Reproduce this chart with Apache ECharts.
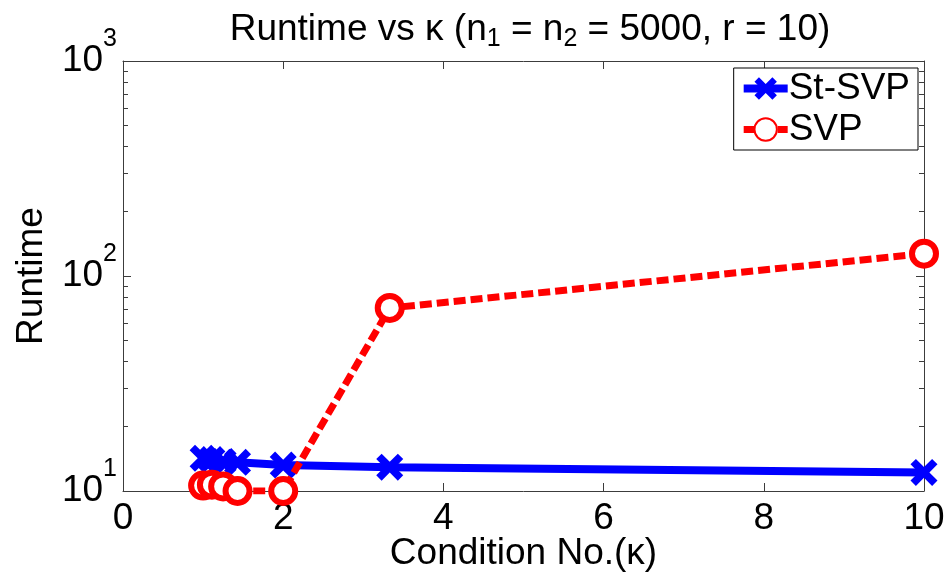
<!DOCTYPE html>
<html>
<head>
<meta charset="utf-8">
<script src="https://cdn.jsdelivr.net/npm/echarts@6/dist/echarts.min.js"></script>
<style>
  html, body { margin: 0; padding: 0; background: #fff; }
  #chart { width: 949px; height: 576px; }
</style>
</head>
<body>
<div id="chart"></div>
<script>
// condition number values (x)
const kappa = [1, 1.11, 1.25, 1.43, 2, 3.33, 10]
// runtimes
const stSvp = [14.2, 14.0, 13.7, 13.6, 13.2, 12.9, 12.2]
const svp = [10.6, 10.7, 10.5, 10.0, 10.0, 71, 127]
const xTicks = [0, 2, 4, 6, 8, 10]
const yMajor = [10, 100, 1000]
const yMinor = [20, 30, 40, 50, 60, 70, 80, 90, 200, 300, 400, 500, 600, 700, 800, 900]

const FONT = 'Arial, "Liberation Sans", Helvetica, sans-serif'
const FS = 37
const AX = '#3c3c3c'
const xPath = 'path://M0,2 L2,0 L5,3 L8,0 L10,2 L7,5 L10,8 L8,10 L5,7 L2,10 L0,8 L3,5 Z'

const chart = echarts.init(document.getElementById('chart'))

const pairs = (ys) => kappa.map((k, i) => [k, ys[i]])

const supLabel = (v) => {
    const p = Math.round(Math.log10(v))
    return '{b|10}{s|' + p + '}'
}

const option = {
    animation: false,
    backgroundColor: '#fff',
    textStyle: { fontFamily: FONT },
    title: {
        text: '{a|Runtime vs κ (n}{s|1}{a| = n}{s|2}{a| = 5000, r = 10)}',
        left: 525,
        top: 3,
        textAlign: 'center',
        textStyle: {
            fontWeight: 'normal',
            rich: {
                a: { fontSize: FS, lineHeight: 44, color: '#000', fontFamily: FONT, fontWeight: 'normal' },
                s: { fontSize: 25, lineHeight: 24, color: '#000', fontFamily: FONT, fontWeight: 'normal', verticalAlign: 'bottom' }
            }
        }
    },
    legend: {
        right: 31,
        top: 68,
        orient: 'vertical',
        backgroundColor: '#fff',
        borderColor: '#000',
        borderWidth: 1,
        borderRadius: 0,
        padding: [2, 8, 2, 6],
        itemWidth: 44,
        itemHeight: 28,
        itemGap: 4,
        lineStyle: { width: 'inherit' },
        textStyle: { fontSize: FS, lineHeight: 36, color: '#000', fontFamily: FONT, padding: [0, 0, 0, -4] },
        data: ['St-SVP', 'SVP']
    },
    grid: { left: 123, right: 25, top: 61, bottom: 85, containLabel: false, outerBoundsMode: 'none' },
    xAxis: [
        {
            type: 'value',
            min: 0,
            max: 10,
            interval: 2,
            name: 'Condition No.(κ)',
            nameLocation: 'middle',
            nameGap: 44,
            nameMoveOverlap: false,
            nameTextStyle: { fontSize: FS, lineHeight: 38, color: '#000', fontFamily: FONT },
            axisLine: { show: true, onZero: false, lineStyle: { color: AX, width: 1 } },
            axisTick: { show: true, inside: true, length: 8, lineStyle: { color: AX } },
            axisLabel: { fontSize: FS, color: '#000', margin: 9, fontFamily: FONT },
            splitLine: { show: false }
        },
        {
            type: 'value',
            position: 'top',
            min: 0,
            max: 10,
            interval: 2,
            axisLine: { show: true, onZero: false, lineStyle: { color: AX, width: 1 } },
            axisTick: { show: true, inside: true, length: 8, lineStyle: { color: AX } },
            axisLabel: { show: false },
            splitLine: { show: false }
        }
    ],
    yAxis: [
        {
            type: 'log',
            logBase: 10,
            min: 10,
            max: 1000,
            name: 'Runtime',
            nameLocation: 'middle',
            nameGap: 73,
            nameMoveOverlap: false,
            nameTextStyle: { fontSize: FS, color: '#000', fontFamily: FONT },
            axisLine: { show: true, lineStyle: { color: AX, width: 1 } },
            axisTick: { show: true, inside: true, length: 8, lineStyle: { color: AX }, customValues: yMajor },
            axisLabel: {
                margin: 6,
                customValues: yMajor,
                formatter: supLabel,
                rich: {
                    b: { fontSize: FS, lineHeight: 68, color: '#000', fontFamily: FONT },
                    s: { fontSize: 25, lineHeight: 24, verticalAlign: 'top', color: '#000', fontFamily: FONT }
                }
            },
            splitLine: { show: false }
        },
        {
            type: 'log',
            logBase: 10,
            min: 10,
            max: 1000,
            position: 'left',
            axisLine: { show: false },
            axisTick: { show: true, inside: true, length: 5, lineStyle: { color: AX }, customValues: yMinor },
            axisLabel: { show: false },
            splitLine: { show: false }
        },
        {
            type: 'log',
            logBase: 10,
            min: 10,
            max: 1000,
            position: 'right',
            axisLine: { show: true, lineStyle: { color: AX, width: 1 } },
            axisTick: { show: true, inside: true, length: 8, lineStyle: { color: AX }, customValues: yMajor },
            axisLabel: { show: false },
            splitLine: { show: false }
        },
        {
            type: 'log',
            logBase: 10,
            min: 10,
            max: 1000,
            position: 'right',
            axisLine: { show: false },
            axisTick: { show: true, inside: true, length: 5, lineStyle: { color: AX }, customValues: yMinor },
            axisLabel: { show: false },
            splitLine: { show: false }
        }
    ],
    series: [
        {
            name: 'St-SVP',
            type: 'line',
            data: pairs(stSvp),
            symbol: xPath,
            symbolSize: 27,
            lineStyle: { color: '#0000ff', width: 8 },
            itemStyle: { color: '#0000ff' },
            z: 3
        },
        {
            name: 'SVP',
            type: 'line',
            data: pairs(svp),
            symbol: 'circle',
            symbolSize: 24,
            lineStyle: { color: '#ff0000', width: 7, type: [12, 5] },
            itemStyle: { color: '#fff', borderColor: '#ff0000', borderWidth: 6 },
            z: 4
        }
    ]
}

chart.setOption(option)
</script>
</body>
</html>
